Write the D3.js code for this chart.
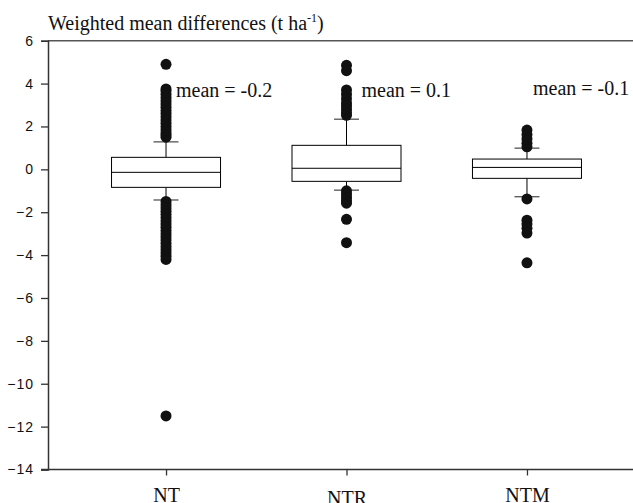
<!DOCTYPE html>
<html>
<head>
<meta charset="utf-8">
<script src="https://cdnjs.cloudflare.com/ajax/libs/d3/7.8.5/d3.min.js"></script>
<style>
  body { margin: 0; background: #fff; }
  svg { display: block; }
</style>
</head>
<body>
<div id="chart"></div>
<script>
// categories and box statistics
var categories = ['NT', 'NTR', 'NTM'];
var q1      = [-0.84, -0.56, -0.42];
var median  = [-0.14,  0.05,  0.09];
var q3      = [ 0.56,  1.12,  0.48];
var whiskLo = [-1.43, -0.97, -1.28];
var whiskHi = [ 1.28,  2.34,  0.99];
var meanLabels = ['mean = -0.2', 'mean = 0.1', 'mean = -0.1'];

// outliers per category
var outNT = [4.9, 3.75, 3.65, 3.5, 3.35, 3.2, 3.05, 2.9, 2.75, 2.6, 2.45, 2.3, 2.15, 2.0, 1.85, 1.7, 1.6, 1.5,
  -1.5, -1.65, -1.8, -1.95, -2.1, -2.25, -2.4, -2.55, -2.7, -2.85, -3.0, -3.15, -3.3, -3.45, -3.6, -3.75, -3.9, -4.05, -4.2,
  -11.5];
var outNTR = [4.85, 4.6, 3.7, 3.5, 3.3, 3.1, 2.95, 2.8, 2.65, 2.52,
  -1.0, -1.15, -1.3, -1.45, -1.58, -2.33, -3.42];
var outNTM = [1.83, 1.62, 1.42, 1.22, 1.05,
  -1.38, -2.37, -2.55, -2.75, -2.97, -4.36];
var outliers = [outNT, outNTR, outNTM];

var yTicks = [6, 4, 2, 0, -2, -4, -6, -8, -10, -12, -14];

var width = 633, height = 503;
var plotLeft = 48, plotTop = 40.7, plotBottom = 469.5, plotRight = 645;

var svg = d3.select('#chart').append('svg')
  .attr('width', width)
  .attr('height', height);

var x = d3.scalePoint()
  .domain(categories)
  .range([plotLeft, plotRight])
  .padding(0.654);

var y = d3.scaleLinear()
  .domain([-14, 6])
  .range([plotBottom, plotTop]);

// frame top line
svg.append('line')
  .attr('x1', plotLeft).attr('x2', width)
  .attr('y1', plotTop).attr('y2', plotTop)
  .attr('stroke', '#555').attr('stroke-width', 1.5);

// y axis
var yAxis = svg.append('g')
  .attr('transform', 'translate(' + plotLeft + ',0)')
  .call(d3.axisLeft(y).tickValues(yTicks).tickSize(7).tickPadding(7).tickFormat(d3.format('d')));
yAxis.select('.domain').attr('stroke', '#333').attr('stroke-width', 1.5);
yAxis.selectAll('.tick line').attr('stroke', '#333').attr('stroke-width', 1.3);
yAxis.selectAll('.tick text')
  .attr('font-family', 'Liberation Sans, Arial, sans-serif')
  .attr('font-size', 14)
  .attr('letter-spacing', 1)
  .attr('fill', '#111');

// x axis
var xAxis = svg.append('g')
  .attr('transform', 'translate(0,' + plotBottom + ')')
  .call(d3.axisBottom(x).tickSize(6).tickSizeOuter(0).tickPadding(12));
xAxis.select('.domain').attr('stroke', '#333').attr('stroke-width', 1.5)
  .attr('d', 'M' + (plotLeft - 7) + ',0H' + plotRight);
xAxis.selectAll('.tick line').attr('stroke', '#333').attr('stroke-width', 1.3);
xAxis.selectAll('.tick text')
  .attr('font-family', 'Liberation Serif, Times New Roman, serif')
  .attr('font-size', 20)
  .attr('fill', '#111')
  .attr('dy', function(d) { return d === 'NTR' ? '0.86em' : '0.71em'; });

// boxes
var boxW = 54.5, capW = 12.5;
var g = svg.append('g');
categories.forEach(function(c, i) {
  var cx = x(c);
  var bg = g.append('g');
  // whiskers
  bg.append('line').attr('x1', cx).attr('x2', cx)
    .attr('y1', y(q3[i])).attr('y2', y(whiskHi[i]))
    .attr('stroke', '#000').attr('stroke-width', 1);
  bg.append('line').attr('x1', cx).attr('x2', cx)
    .attr('y1', y(q1[i])).attr('y2', y(whiskLo[i]))
    .attr('stroke', '#000').attr('stroke-width', 1);
  [whiskHi[i], whiskLo[i]].forEach(function(v) {
    bg.append('line').attr('x1', cx - capW).attr('x2', cx + capW)
      .attr('y1', y(v)).attr('y2', y(v))
      .attr('stroke', '#222').attr('stroke-width', 1);
  });
  bg.append('rect')
    .attr('x', cx - boxW).attr('width', 2 * boxW)
    .attr('y', y(q3[i])).attr('height', y(q1[i]) - y(q3[i]))
    .attr('fill', '#fff').attr('stroke', '#000').attr('stroke-width', 1);
  bg.append('line').attr('x1', cx - boxW).attr('x2', cx + boxW)
    .attr('y1', y(median[i])).attr('y2', y(median[i]))
    .attr('stroke', '#000').attr('stroke-width', 1);
  bg.selectAll('circle')
    .data(outliers[i])
    .enter().append('circle')
    .attr('cx', cx)
    .attr('cy', function(d) { return y(d); })
    .attr('r', 5.5)
    .attr('fill', '#111');
});

// mean annotations
var meanDx = [10, 15, 6];
svg.selectAll('text.mean')
  .data(categories)
  .enter().append('text')
  .attr('class', 'mean')
  .attr('x', function(d, i) { return x(d) + meanDx[i]; })
  .attr('y', function(d, i) { return i === 2 ? 95 : 96.5; })
  .attr('font-family', 'Liberation Serif, Times New Roman, serif')
  .attr('font-size', 20)
  .attr('fill', '#111')
  .text(function(d, i) { return meanLabels[i]; });

// title
var title = svg.append('text')
  .attr('x', plotLeft)
  .attr('y', 30)
  .attr('font-family', 'Liberation Serif, Times New Roman, serif')
  .attr('font-size', 20)
  .attr('fill', '#111');
title.append('tspan').text('Weighted mean differences (t ha');
title.append('tspan').attr('font-size', 12).attr('dy', -8).text('-1');
title.append('tspan').attr('dy', 8).text(')');
</script>
</body>
</html>
